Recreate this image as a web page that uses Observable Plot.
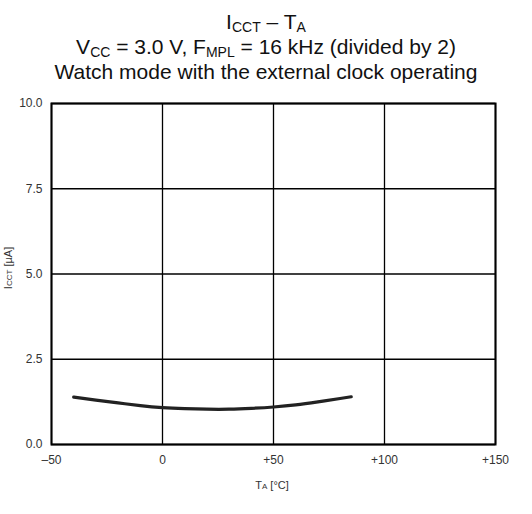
<!DOCTYPE html>
<html>
<head>
<meta charset="utf-8">
<script src="https://cdn.jsdelivr.net/npm/d3@7"></script>
<script src="https://cdn.jsdelivr.net/npm/@observablehq/plot@0.6"></script>
<style>
  html, body { margin: 0; padding: 0; background: #fff; }
  #wrap { width: 532px; height: 514px; position: relative; font-family: "Liberation Sans", Arial, sans-serif; }
  .tl { position: absolute; left: 0; width: 532px; text-align: center; color: #111; font-size: 21px; line-height: 21px; white-space: nowrap; }
  .tl sub { font-size: 14px; vertical-align: -3px; line-height: 0; }
  #chart { position: absolute; left: 0; top: 90px; }
</style>
</head>
<body>
<div id="wrap">
  <div class="tl" style="top:11px">I<sub>CCT</sub> – T<sub>A</sub></div>
  <div class="tl" style="top:36px">V<sub>CC</sub> = 3.0 V, F<sub>MPL</sub> = 16 kHz (divided by 2)</div>
  <div class="tl" style="top:61px">Watch mode with the external clock operating</div>
  <div id="chart"></div>
</div>
<script>
const temperature = [-40, -30, -20, -10, 0, 10, 20, 30, 40, 50, 60, 70, 80, 85];
const current     = [1.39, 1.30, 1.22, 1.14, 1.08, 1.05, 1.035, 1.035, 1.06, 1.10, 1.16, 1.25, 1.35, 1.40];
const xTicks = [-50, 0, 50, 100, 150];
const xTickLabels = ["\u201350", "0", "+50", "+100", "+150"];
const yTicks = [0, 2.5, 5, 7.5, 10];

const data = temperature.map((t, i) => ({t, i: current[i]}));

const chart = Plot.plot({
  width: 532,
  height: 424,
  marginTop: 13,
  marginBottom: 70,
  marginLeft: 51,
  marginRight: 37,
  style: {fontFamily: "Liberation Sans, Arial, sans-serif", fontSize: "12px", color: "#333", background: "#fff"},
  x: {domain: [-50, 150]},
  y: {domain: [0, 10]},
  marks: [
    Plot.gridX(xTicks, {stroke: "#000", strokeOpacity: 1, strokeWidth: 1.3}),
    Plot.gridY(yTicks, {stroke: "#000", strokeOpacity: 1, strokeWidth: 1.3}),
    Plot.frame({stroke: "#000", strokeWidth: 2}),
    Plot.axisX(xTicks, {tickSize: 0, tickPadding: 11, fontSize: 12, fill: "#333", tickFormat: d => xTickLabels[xTicks.indexOf(d)], label: null}),
    Plot.axisY(yTicks, {tickSize: 0, tickPadding: 9, fontSize: 12, fill: "#333", tickFormat: d => d.toFixed(1), label: null}),
    Plot.line(data, {x: "t", y: "i", curve: "natural", stroke: "#222", strokeWidth: 3.2})
  ]
});
document.getElementById("chart").appendChild(chart);

// axis titles with small subscripts, as real SVG text
const svg = d3.select(chart);
const xl = svg.append("text").attr("x", 272).attr("y", 399).attr("text-anchor", "middle")
  .attr("font-size", 11).attr("fill", "#333").attr("font-family", "Liberation Sans, Arial, sans-serif");
xl.append("tspan").text("T");
xl.append("tspan").attr("font-size", 8).text("A");
xl.append("tspan").text(" [°C]");
const yl = svg.append("text").attr("transform", "translate(12,178) rotate(-90)").attr("text-anchor", "middle")
  .attr("font-size", 11).attr("fill", "#333").attr("font-family", "Liberation Sans, Arial, sans-serif");
yl.append("tspan").text("I");
yl.append("tspan").attr("font-size", 8).text("CCT");
yl.append("tspan").text(" [µA]");
</script>
</body>
</html>
